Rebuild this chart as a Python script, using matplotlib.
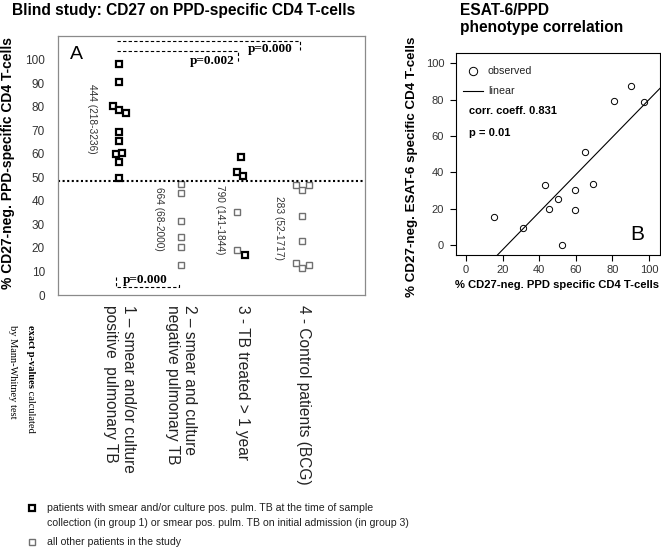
import numpy as np
import matplotlib.pyplot as plt
from matplotlib.lines import Line2D

SANS = 'Liberation Sans'
SERIF = 'Liberation Serif'
plt.rcParams['font.family'] = SANS

# ---- panel A data: % CD27-neg. PPD-specific CD4 T-cells per group
group_pos = [1, 2, 3, 4]
group_labels = ['1 \u2013 smear and/or culture\npositive  pulmonary TB',
                '2 \u2013 smear and culture\nnegative pulmonary TB',
                '3 - TB treated > 1 year',
                '4 - Control patients (BCG)']
g1_vals = [98.3, 90.3, 80.1, 78.4, 77.3, 69.4, 65.4, 59.7, 60.3, 56.3, 49.5]
g2_vals = [47.2, 43.3, 31.3, 24.5, 20.5, 12.6]
g3_vals = [58.6, 52.3, 50.6, 35.3, 18.9, 16.9]
g4_vals = [46.7, 44.4, 46.7, 33.6, 22.8, 13.8, 11.5, 12.6]
# 1 = smear/culture pos. at sampling (bold square), 0 = other patients
g1_bold = [1, 1, 1, 1, 1, 1, 1, 1, 1, 1, 1]
g2_bold = [0, 0, 0, 0, 0, 0]
g3_bold = [1, 1, 1, 0, 0, 1]
g4_bold = [0, 0, 0, 0, 0, 0, 0, 0]
# horizontal jitter of the points inside a group
g1_dx = [0, 0, -0.11, 0, 0.1, 0, 0, -0.06, 0.04, 0, 0]
g2_dx = [0, 0, 0, 0, 0, 0]
g3_dx = [-0.02, -0.08, 0.02, -0.08, -0.08, 0.04]
g4_dx = [-0.12, -0.02, 0.08, -0.02, -0.02, -0.12, -0.02, 0.08]
median_labels = ['444 (218-3236)', '664 (68-2000)', '790 (141-1844)', '283 (52-1717)']
cutoff = 48.5

# ---- panel B data
ppd_x = [15.5, 31.0, 43.3, 45.5, 50.2, 52.6, 59.5, 59.8, 65.0, 69.5, 80.6, 90.2, 97.5]
esat_y = [15.4, 9.4, 32.8, 20.0, 25.5, -0.2, 19.1, 30.5, 51.0, 33.8, 79.4, 87.7, 78.9]

W, H = 661, 550
fig = plt.figure(figsize=(W / 100, H / 100), dpi=100)


def fx(px):
    return px / W


def fy(py):
    return 1 - py / H


# ================= panel A =================
axA = fig.add_axes([fx(58), fy(295), 307 / W, 259 / H])
axA.set_xlim(0, 5)
axA.set_ylim(0, 110)
for s in axA.spines.values():
    s.set_color('#8a8a8a')
    s.set_linewidth(0.9)
axA.set_yticks(range(0, 101, 10))
axA.tick_params(axis='y', length=0, pad=9.5, labelsize=8.5, labelcolor='#333333')
axA.set_xticks(group_pos)
axA.set_xticklabels(group_labels, rotation=-90, ha='center', va='top',
                    multialignment='left', fontsize=11.2, color='#222222')
axA.tick_params(axis='x', length=0, pad=7)

groups = [(g1_vals, g1_bold, g1_dx), (g2_vals, g2_bold, g2_dx),
          (g3_vals, g3_bold, g3_dx), (g4_vals, g4_bold, g4_dx)]
for pos, (vals, bold, dx) in zip(group_pos, groups):
    vals = np.array(vals)
    bold = np.array(bold, dtype=bool)
    xs = pos + np.array(dx)
    axA.plot(xs[~bold], vals[~bold], 's', ms=4.3, mfc='white', mec='#707070', mew=1.0)
    axA.plot(xs[bold], vals[bold], 's', ms=4.3, mfc='white', mec='black', mew=1.6)

axA.axhline(cutoff, color='black', lw=1.5, ls=(0, (1, 1.2)))

med_xy = [(0.55, 75), (1.65, 32.3), (2.64, 32), (3.6, 28.5)]
for (x, y), s in zip(med_xy, median_labels):
    axA.text(x, y, s, rotation=-90, ha='center', va='center', fontsize=7.3, color='#333333')

# p-value brackets (dashed)
dash = dict(color='black', lw=0.8, ls=(0, (3, 2)))
axA.plot([0.96, 3.94, 3.94], [107.8, 107.8, 104.0], **dash)
axA.plot([0.96, 2.93, 2.93], [103.5, 103.5, 98.5], **dash)
axA.plot([0.94, 0.94, 1.97, 1.97], [7.8, 3.3, 3.3, 4.8], **dash)
pfont = dict(family=SERIF, weight='bold', fontsize=9.5, ha='center', va='center')
axA.text(3.45, 104.6, 'p=0.000', **pfont)
axA.text(2.51, 99.3, 'p=0.002', **pfont)
axA.text(1.42, 6.2, 'p=0.000', **pfont)
axA.text(0.3, 102, 'A', fontsize=14, ha='center', va='center')

# ================= panel B =================
axB = fig.add_axes([fx(456), fy(255), 204 / W, 202 / H])
axB.set_xlim(-5.5, 106)
axB.set_ylim(-5.5, 105.7)
for s in axB.spines.values():
    s.set_linewidth(0.8)
axB.set_xticks(range(0, 101, 20))
axB.set_yticks(range(0, 101, 20))
axB.tick_params(axis='both', direction='out', length=4, width=0.8,
                labelsize=8, labelcolor='#333333')
axB.tick_params(axis='x', pad=3)
axB.tick_params(axis='y', pad=4.5)
axB.plot(ppd_x, esat_y, 'o', ms=4.5, mfc='none', mec='black', mew=0.7)
slope, icpt = np.polyfit(ppd_x, esat_y, 1)
xl = np.array(axB.get_xlim())
axB.plot(xl, slope * xl + icpt, color='black', lw=0.8)
axB.set_xlim(-5.5, 106)

# legend of panel B
fig.add_artist(Line2D([fx(472.7)], [fy(71)], marker='o', ms=6, mfc='none',
                      mec='black', mew=0.7, transform=fig.transFigure))
fig.add_artist(Line2D([fx(463), fx(483)], [fy(90.7), fy(90.7)], color='black',
                      lw=0.8, transform=fig.transFigure))
fig.text(fx(488), fy(71), 'observed', fontsize=7.7, va='center', color='#222222')
fig.text(fx(488), fy(90.7), 'linear', fontsize=7.7, va='center', color='#222222')
fig.text(fx(469), fy(110.5), 'corr. coeff. 0.831', fontsize=8, weight='bold', va='center')
fig.text(fx(469), fy(132.5), 'p = 0.01', fontsize=8, weight='bold', va='center')
fig.text(fx(637), fy(234), 'B', fontsize=15, ha='center', va='center')

# ================= titles and axis labels =================
fig.text(fx(12), fy(10), 'Blind study: CD27 on PPD-specific CD4 T-cells',
         fontsize=11.2, weight='bold', va='center')
fig.text(fx(460), fy(19), 'ESAT-6/PPD\nphenotype correlation', fontsize=11.2,
         weight='bold', va='center', linespacing=1.2)
fig.text(fx(8), fy(163), '% CD27-neg. PPD-specific CD4 T-cells', fontsize=10,
         weight='bold', rotation=90, ha='center', va='center')
fig.text(fx(412), fy(167), '% CD27-neg. ESAT-6 specific CD4 T-cells', fontsize=9.6,
         weight='bold', rotation=90, ha='center', va='center')
fig.text(fx(557), fy(285), '% CD27-neg. PPD specific CD4 T-cells', fontsize=8.1,
         weight='bold', ha='center', va='center')

# note on p-values (mixed bold / regular, rotated)
fig.canvas.draw()
rend = fig.canvas.get_renderer()
t1 = fig.text(fx(30), fy(325), 'exact p-values', family=SERIF, weight='bold',
              fontsize=7.5, rotation=-90, ha='center', va='top')
bb = t1.get_window_extent(rend)
fig.text(fx(30), bb.y0 / H, ' calculated', family=SERIF, fontsize=7.5,
         rotation=-90, ha='center', va='top')
fig.text(fx(12), fy(325), 'by Mann-Whitney test', family=SERIF, fontsize=7.5,
         rotation=-90, ha='center', va='top')

# ================= bottom legend =================
fig.add_artist(Line2D([fx(31.7)], [fy(508)], marker='s', ms=4.3, mfc='white',
                      mec='black', mew=1.6, transform=fig.transFigure))
fig.add_artist(Line2D([fx(31.7)], [fy(541.7)], marker='s', ms=4.3, mfc='white',
                      mec='#707070', mew=1.0, transform=fig.transFigure))
lfont = dict(fontsize=7.55, va='center', color='#222222')
fig.text(fx(46.7), fy(508), 'patients with smear and/or culture pos. pulm. TB at the time of sample', **lfont)
fig.text(fx(46.7), fy(523), 'collection (in group 1) or smear pos. pulm. TB on initial admission (in group 3)', **lfont)
fig.text(fx(46.7), fy(541.7), 'all other patients in the study', **lfont)

fig.savefig('out.png', dpi=100)
